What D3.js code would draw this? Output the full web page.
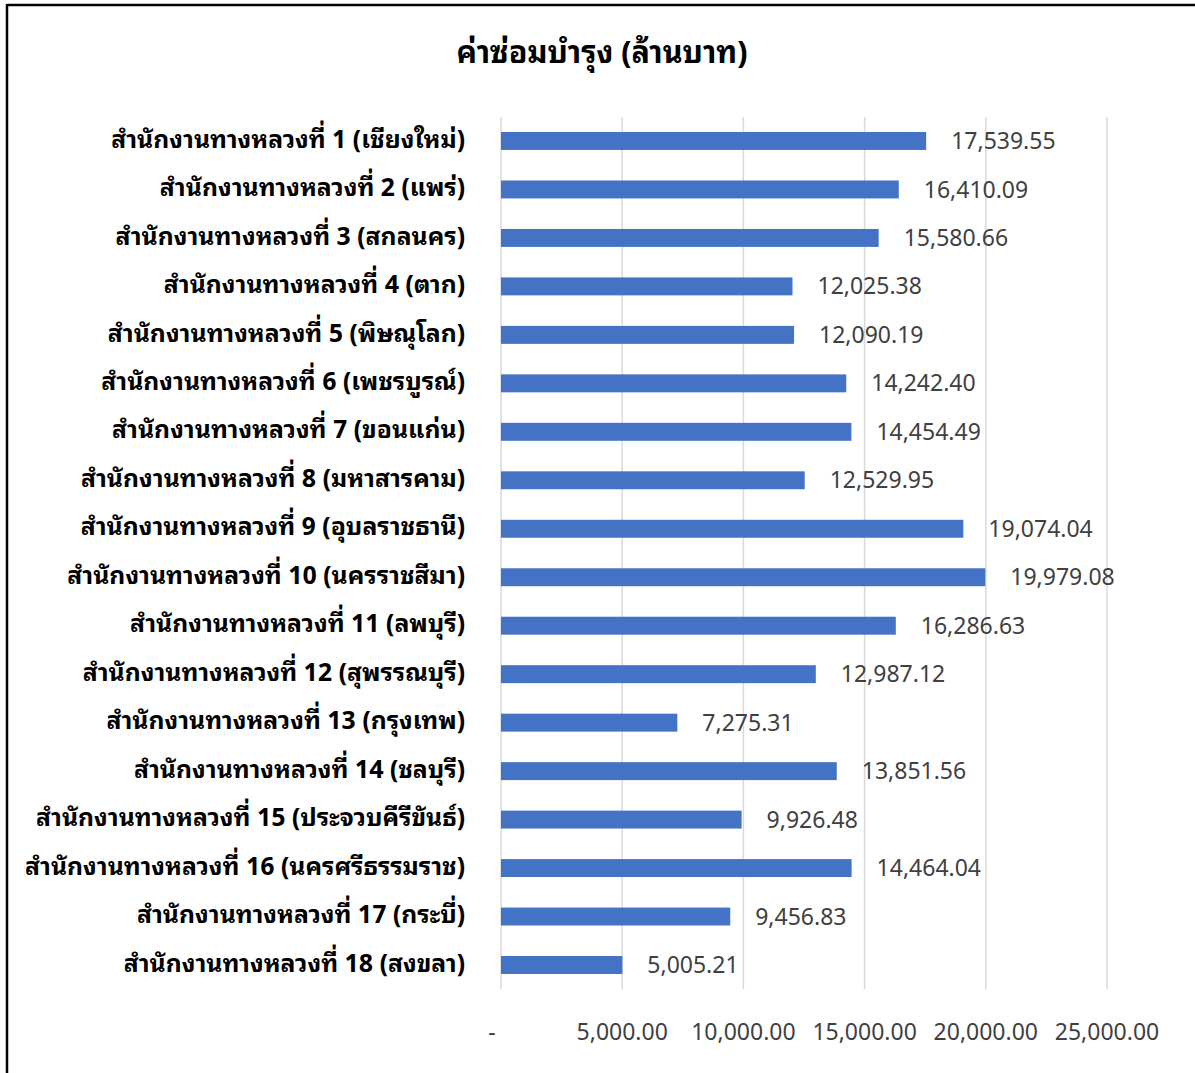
<!DOCTYPE html>
<html><head><meta charset="utf-8">
<script src="https://cdn.jsdelivr.net/npm/d3@7"></script>
<style>
body{margin:0;background:#fff;}
svg{display:block;}
text{font-family:"Noto Sans Thai Looped","Loma","Garuda","Tahoma","Noto Sans","Noto Sans Thai",sans-serif;}
</style></head>
<body>
<svg id="chart" width="1195" height="1073"></svg>
<script>
const title = "ค่าซ่อมบำรุง (ล้านบาท)";
const categories = [
  "สำนักงานทางหลวงที่ 1 (เชียงใหม่)",
  "สำนักงานทางหลวงที่ 2 (แพร่)",
  "สำนักงานทางหลวงที่ 3 (สกลนคร)",
  "สำนักงานทางหลวงที่ 4 (ตาก)",
  "สำนักงานทางหลวงที่ 5 (พิษณุโลก)",
  "สำนักงานทางหลวงที่ 6 (เพชรบูรณ์)",
  "สำนักงานทางหลวงที่ 7 (ขอนแก่น)",
  "สำนักงานทางหลวงที่ 8 (มหาสารคาม)",
  "สำนักงานทางหลวงที่ 9 (อุบลราชธานี)",
  "สำนักงานทางหลวงที่ 10 (นครราชสีมา)",
  "สำนักงานทางหลวงที่ 11 (ลพบุรี)",
  "สำนักงานทางหลวงที่ 12 (สุพรรณบุรี)",
  "สำนักงานทางหลวงที่ 13 (กรุงเทพ)",
  "สำนักงานทางหลวงที่ 14 (ชลบุรี)",
  "สำนักงานทางหลวงที่ 15 (ประจวบคีรีขันธ์)",
  "สำนักงานทางหลวงที่ 16 (นครศรีธรรมราช)",
  "สำนักงานทางหลวงที่ 17 (กระบี่)",
  "สำนักงานทางหลวงที่ 18 (สงขลา)"
];
const values = [17539.55,16410.09,15580.66,12025.38,12090.19,14242.40,14454.49,12529.95,19074.04,19979.08,16286.63,12987.12,7275.31,13851.56,9926.48,14464.04,9456.83,5005.21];
const tickValues = [0,5000,10000,15000,20000,25000];
const tickLabels = ["-","5,000.00","10,000.00","15,000.00","20,000.00","25,000.00"];

const svg = d3.select("#chart");
svg.append("line").attr("x1",7).attr("x2",1195).attr("y1",5).attr("y2",5).attr("stroke","#000").attr("stroke-width",2.5);
svg.append("line").attr("x1",7).attr("x2",7).attr("y1",4).attr("y2",1073).attr("stroke","#000").attr("stroke-width",2.5);

const titleText = svg.append("text").attr("x",602).attr("y",63).attr("text-anchor","middle")
  .attr("font-size",27).attr("font-weight","bold").attr("fill","#000").text(title);

const x = d3.scaleLinear().domain([0,25000]).range([501,1107]);
const y = d3.scaleBand().domain(categories).range([117,989]).paddingInner(0.63).paddingOuter(0.31);

svg.append("g").selectAll("line").data(tickValues).join("line")
  .attr("x1",d=>x(d)).attr("x2",d=>x(d)).attr("y1",117).attr("y2",989)
  .attr("stroke","#d9d9d9").attr("stroke-width",1.5);

svg.append("g").selectAll("rect").data(values).join("rect")
  .attr("x",x(0)).attr("y",(d,i)=>y(categories[i]))
  .attr("width",d=>x(d)-x(0)).attr("height",y.bandwidth())
  .attr("fill","#4472C4");

const fmt = d3.format(",.2f");
svg.append("g").selectAll("text").data(values).join("text")
  .attr("x",d=>x(d)+25).attr("y",(d,i)=>y(categories[i])+y.bandwidth()/2)
  .attr("dy","0.35em").attr("font-size",23).attr("fill","#404040")
  .text(d=>fmt(d));

const catLabels = svg.append("g").selectAll("text").data(categories).join("text")
  .attr("x",465).attr("y",d=>y(d)+y.bandwidth()/2-2)
  .attr("dy","0.35em").attr("text-anchor","end").attr("font-size",22)
  .attr("font-weight","bold").attr("fill","#000").text(d=>d);

// scale text widths to match reference proportions
const w0 = catLabels.nodes()[0].getComputedTextLength();
const catScale = 354 / w0;
catLabels.attr("font-size", Math.min(30, 22*catScale));
const tw = titleText.node().getComputedTextLength();
titleText.attr("font-size", Math.min(36, 27*291/tw));

svg.append("g").selectAll("text").data(tickValues).join("text")
  .attr("x",(d,i)=>i===0?x(d)-9:x(d)).attr("y",1032).attr("dy","0.35em")
  .attr("text-anchor","middle").attr("font-size",23).attr("fill","#404040")
  .text((d,i)=>tickLabels[i]);
</script>
</body></html>
